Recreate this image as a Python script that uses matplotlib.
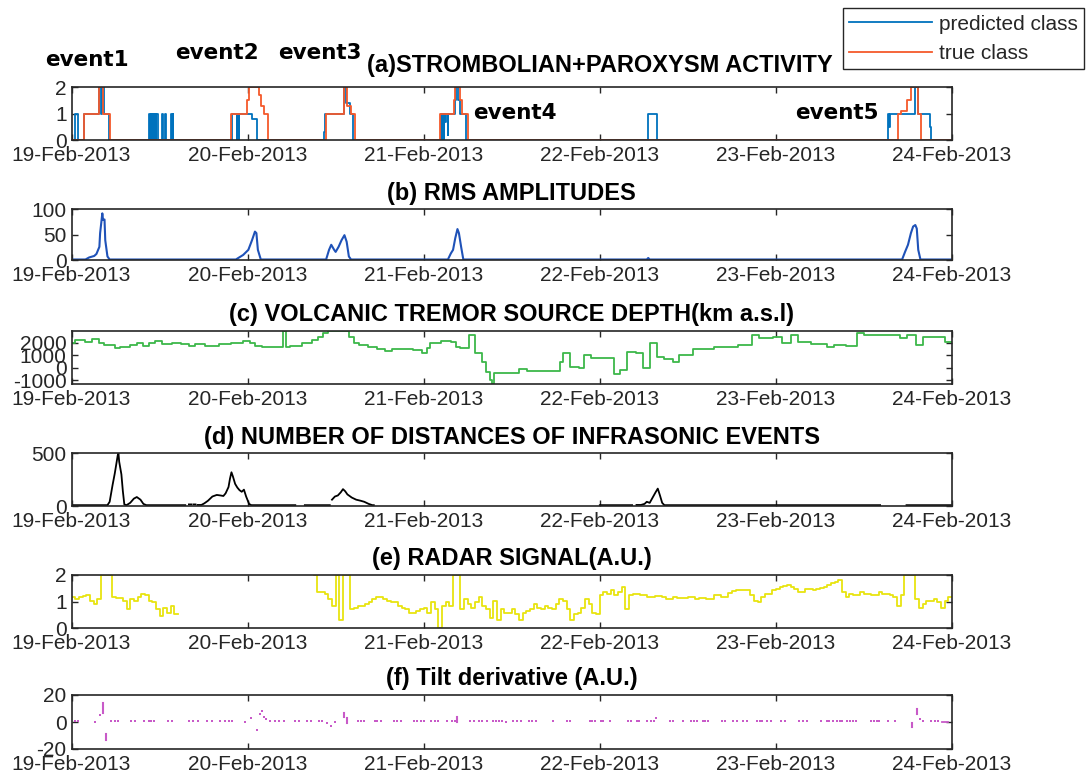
import numpy as np
import matplotlib
matplotlib.use('Agg')
import matplotlib.pyplot as plt
import matplotlib.dates as mdates

plt.rcParams['font.family'] = ['Liberation Sans', 'DejaVu Sans']
plt.rcParams['axes.unicode_minus'] = False

# ---- data (hours since 19-Feb-2013 00:00) ----
# (a) classes, step change points
pred_t = [0, 0.45, 0.95, 1.7, 3.8, 4.0, 4.15, 4.4, 5.15,
          10.6, 10.75, 10.8, 10.9, 10.95, 11.1, 11.15, 11.3, 11.35, 11.5, 11.55, 11.8,
          12.35, 12.45, 12.75, 12.85, 13.55, 13.65, 13.8, 13.9,
          21.9, 22.5, 22.55, 22.8, 22.85, 24.6, 25.3,
          34.35, 34.55, 37.15, 37.35, 37.9, 38.4,
          50.4, 50.5, 50.55, 50.7, 50.75, 50.9, 51.1, 51.3, 51.35, 52.2, 52.4, 52.7, 53.0, 53.7,
          78.6, 79.8,
          111.3, 111.45, 111.55, 114.9, 115.3, 117.0, 117.2, 120]
pred_v = [0, 1, 0, 1, 2, 1, 2, 1, 0,
          1, 0, 1, 0, 1, 0, 1, 0, 1, 0, 1, 0,
          1, 0, 1, 0, 1, 0, 1, 0,
          1, 0, 1, 0, 1, 0.8, 0,
          0.3, 1, 2, 1.4, 1, 0,
          1, 0, 1, 0, 1, 0.7, 1, 0.2, 1, 1.5, 2, 1.5, 1, 0,
          1, 0,
          1, 0.5, 1, 2, 1, 0.5, 0, 0]
true_t = [0, 1.7, 3.7, 4.3, 5.2,
          21.8, 23.9, 24.2, 25.5, 25.8, 26.2, 26.8,
          34.7, 37.15, 37.6, 38.1, 38.6,
          50.2, 52.1, 52.3, 52.9, 53.2, 54.0,
          112.6, 113.1, 113.9, 114.4, 115.4, 115.8, 120]
true_v = [0, 1, 2, 1, 0,
          1, 1.5, 2, 1.7, 1.3, 1, 0,
          1, 2, 1.3, 1, 0,
          1, 1.5, 2, 1.5, 1, 0,
          1, 1.1, 1.5, 2, 1, 0, 0]

# (b) RMS amplitudes
rms_t = [0, 1.9, 2.4, 3.1, 3.4, 3.8, 3.9, 4.2, 4.3, 4.5, 4.6, 4.9, 5.2,
         22.4, 23.4, 24.1, 24.6, 25.0, 25.2, 25.4, 25.8,
         34.7, 35.1, 35.4, 35.8, 36.0, 36.4, 36.8, 37.2, 37.5, 37.8, 38.1,
         51.3, 51.7, 52.0, 52.3, 52.6, 52.8, 53.1, 53.4,
         78.4, 78.6, 78.8,
         113.2, 113.6, 114.0, 114.4, 114.7, 115.0, 115.2, 115.4, 115.7, 120]
rms_v = [1, 1, 5, 8, 12, 26, 53, 92, 79, 80, 39, 7, 1,
         1, 10, 20, 39, 56, 53, 20, 1,
         1, 20, 30, 20, 16, 26, 39, 49, 36, 7, 1,
         1, 13, 20, 43, 61, 53, 26, 1,
         1, 4, 1,
         1, 16, 30, 53, 66, 69, 62, 20, 1, 1]

# (c) tremor source depth, step change points
depth_t = [0.0, 0.47, 1.89, 2.83, 3.78, 4.49, 5.90, 6.61, 8.03, 8.98,
           9.68, 10.63, 11.34, 12.28, 13.70, 14.88, 16.06, 16.77, 18.19, 20.08,
           21.73, 23.38, 24.33, 25.04, 25.98, 28.81, 29.29, 29.76, 31.41, 32.83,
           33.54, 34.25, 34.96, 37.79, 38.50, 39.21, 40.39, 41.57, 42.75, 43.69,
           46.53, 47.71, 48.42, 48.89, 50.31, 51.72, 52.43, 53.0, 54.18, 54.99,
           55.96, 56.43, 57.05, 57.36, 57.63, 60.94, 62.12, 66.53, 67.0, 67.95,
           69.13, 69.84, 70.79, 73.87, 74.81, 75.76, 76.94, 77.89, 78.83, 79.78,
           80.73, 81.91, 82.86, 84.75, 87.59, 90.90, 92.80, 93.74, 95.64, 96.82,
           98.0, 98.95, 100.84, 102.97, 103.92, 105.57, 106.99, 107.94, 112.91, 113.85,
           115.04, 115.99, 119.06, 120]
depth_v = [1933, 2200, 2067, 2253, 1933, 1800, 1533, 1667, 1800, 1933,
           1747, 1987, 2120, 1853, 1987, 1880, 1747, 1853, 1720, 1880,
           1933, 2120, 1933, 1747, 1667, 2950, 1667, 1747, 1933, 2200,
           2467, 2733, 2950, 2467, 1987, 1800, 1667, 1480, 1347, 1453,
           1400, 1133, 1533, 1933, 2147, 2067, 1667, 1533, 2600, 1187,
           467, -333, -1000, -1320, -413, -147, -253, 467, 1133, 67,
           -67, 1000, 733, -520, -200, 1267, 1187, -67, 1933, 867,
           653, 467, 1000, 1453, 1667, 1800, 2600, 2333, 2467, 1933,
           2600, 2067, 1853, 1667, 1800, 1720, 2787, 2600, 2333, 2600,
           1800, 2467, 2067, 2067]

# (d) infrasonic events (nan = no data)
infra_t = [0, 4.9, 5.2, 5.6, 5.9, 6.3, 6.4, 6.5, 6.8, 7.0, 7.2, 7.5, 8.0, 8.5, 8.9,
           9.4, 9.8, 10.2, 15.5, 15.7, 16.0, 16.3, 16.4, 16.6, 16.9, 17.0,
           17.2, 17.7, 18.1, 18.6, 19.2, 19.8, 20.3, 20.7, 21.0, 21.4, 21.6, 21.8,
           22.0, 22.3, 22.6, 22.9, 23.2, 23.5, 23.8, 24.2, 24.5, 30.5, 31.0,
           31.8, 35.2, 35.3, 35.5, 35.9, 36.3, 36.7, 37.0, 37.3, 37.6, 38.2,
           38.8, 39.4, 39.9, 40.5, 41.0, 41.2, 41.5, 72.0, 76.4, 76.7,
           77.0, 77.6, 78.1, 78.4, 78.8, 79.2, 79.6, 79.9, 80.2, 80.5, 80.8,
           110.2, 111.0, 113.8, 120]
infra_v = [8, 8, 40, 200, 310, 480, 500, 420, 300, 140, 15, 8, 30, 70, 85,
           60, 20, 8, 8, np.nan, 15, 15, np.nan, 15, 15, np.nan,
           10, 10, 25, 50, 90, 105, 100, 95, 120, 180, 260, 320,
           280, 210, 175, 150, 135, 155, 90, 20, 8, 8, np.nan,
           8, 8, np.nan, 60, 90, 100, 130, 160, 140, 110, 80,
           60, 50, 40, 20, 8, 8, np.nan, 8, 8, np.nan,
           10, 10, 20, 40, 30, 80, 130, 165, 100, 30, 8,
           8, np.nan, 8, 8]

# (e) radar signal, one sample every 30 min
radar_step_h = 0.5
radar_v = ([1.16, 1.10, 1.16, 1.20, 1.23, 1.03, 0.90, 1.10, 2.0, 2.0,
            2.0, 1.16, 1.12, 1.12, 1.03, 0.71, 1.10, 1.03, 1.16, 1.29,
            1.23, 1.03, 0.97, 0.71, 0.45, 0.77, 0.58, 0.84, 0.52]
           + [np.nan] * 37
           + [2.0, 1.35, 1.35, 1.29, 1.10, 0.84, 2.0, 0.32, 2.0, 2.0,
              0.71, 0.77, 0.84, 0.84, 0.90, 0.97, 1.10, 1.16, 1.16, 1.10,
              1.03, 0.97, 0.97, 0.84, 0.77, 0.71, 0.58, 0.58, 0.65, 0.71,
              0.77, 0.58, 0.97, 0.71, 0.0, 0.84, 0.97, 0.84, 2.0, 2.0,
              0.71, 1.10, 0.90, 0.77, 0.97, 1.16, 0.84, 0.71, 0.39, 1.03,
              0.32, 0.71, 0.58, 0.58, 0.71, 0.52, 0.32, 0.58, 0.65, 0.71,
              0.90, 0.77, 0.71, 0.84, 0.77, 0.71, 0.90, 1.10, 1.03, 0.71,
              0.32, 0.52, 0.58, 0.77, 1.10, 0.90, 0.58, 0.52, 1.23, 1.35,
              1.29, 1.42, 1.23, 1.35, 1.55, 0.71, 1.23, 1.29, 1.29, 1.23,
              1.23, 1.16, 1.16, 1.19, 1.19, 1.16, 1.10, 1.10, 1.16, 1.12,
              1.12, 1.12, 1.16, 1.16, 1.10, 1.14, 1.14, 1.10, 1.10, 1.23,
              1.23, 1.16, 1.16, 1.33, 1.38, 1.42, 1.42, 1.42, 1.42, 1.23,
              1.03, 0.97, 1.16, 1.29, 1.29, 1.42, 1.48, 1.55, 1.59, 1.61,
              1.55, 1.48, 1.35, 1.35, 1.48, 1.48, 1.42, 1.46, 1.51, 1.55,
              1.61, 1.68, 1.74, 1.81, 1.35, 1.16, 1.29, 1.23, 1.23, 1.35,
              1.29, 1.29, 1.23, 1.25, 1.35, 1.29, 1.29, 1.25, 1.16, 0.84,
              1.23, 2.0, 2.0, 2.0, 1.10, 0.77, 0.90, 1.03, 1.03, 1.10,
              0.97, 0.77, 1.03, 1.16, 1.16])

# (f) tilt derivative: isolated samples and short vertical excursions
tilt_t = [0.5, 0.9, 3.17, 3.84, 5.4, 5.9, 6.3, 8.1, 8.6, 9.9, 10.5, 10.9, 11.3,
          13.1, 13.7, 16.0, 16.6, 17.2, 18.5, 19.1, 20.3, 20.9, 21.4, 21.9,
          23.6, 24.4, 25.3, 25.7, 25.9, 26.2, 26.5, 27.0, 27.8, 28.3, 29.0,
          30.5, 31.0, 32.1, 32.6, 33.7, 34.2, 34.8, 35.3, 35.9,
          39.0, 39.5, 39.9, 41.3, 41.7, 42.2, 44.0, 44.4, 44.9,
          46.7, 47.1, 47.6, 48.0, 49.0, 49.5, 49.9, 51.2, 51.9, 52.2,
          54.3, 54.9, 55.5, 56.0, 56.6, 57.4, 57.8, 58.3, 58.7, 59.2,
          60.2, 60.7, 61.2, 62.3, 62.8, 63.3, 65.6, 67.5, 68.0,
          70.6, 71.0, 71.3, 72.1, 72.5, 73.4, 75.8, 76.3, 77.1, 77.4,
          78.4, 79.0, 79.4, 79.7, 81.6, 82.0, 83.4, 84.4, 84.8, 85.2,
          86.1, 86.4, 86.8, 88.7, 89.1, 90.1, 90.7, 91.5, 92.0,
          93.4, 93.8, 94.1, 94.8, 95.3, 96.7, 97.2, 99.2, 99.7, 100.2,
          102.1, 102.9, 103.3, 103.8, 104.3, 104.7, 105.0, 105.7, 106.1,
          106.5, 106.9, 109.0, 109.4, 109.8, 110.1, 111.3, 112.2,
          115.6, 116.0, 117.2, 117.7, 118.1]
tilt_v = [1, 1, 0, 5, 1, 1, 1, 1, 1, 1, 1, 1, 1,
          1, 1, 1, 1, 1, 1, 1, 1, 1, 1, 1,
          0, 3, -6, 6, 8, 4, 2, 1, 1, 1, 1,
          1, 1, 1, 1, 1, 1, -1, -3, 0,
          1, 1, 1, 1, 1, 1, 1, 1, 1,
          1, 1, 1, 1, 1, 1, 1, 1, 1, 1,
          1, 1, 1, 1, 1, 1, 1, 1, 1, 0,
          1, 1, 1, 1, 1, 1, 1, 1, 1,
          1, 1, 1, 1, 1, 1, 1, 1, 1, 1,
          1, 1, 1, 3, 1, 1, 1, 1, 1, 1,
          1, 1, 1, 1, 1, 1, 1, 1, 1,
          1, 1, 1, 1, 1, 1, 1, 1, 1, 1,
          1, 1, 1, 1, 1, 1, 1, 1, 1,
          1, 1, 1, 1, 1, 1, 1, 1,
          2, 1, 1, 1, 1]
spike_t = [4.3, 4.75, 37.1, 37.6, 52.6, 114.6, 115.2]
spike_lo = [7, -13, 4, -1, 0, -4, 6]
spike_hi = [14, -9, 7, 3, 4, -1, 10]
tail_t = [118.6, 119.4]
tail_v = [0, 0]

events = ['event1', 'event2', 'event3', 'event4', 'event5']
event_px = [(45, 60), (175, 53), (278, 53), (473, 113), (795, 113)]

titles = ['(a)STROMBOLIAN+PAROXYSM ACTIVITY', '(b) RMS AMPLITUDES',
          '(c) VOLCANIC TREMOR SOURCE DEPTH(km a.s.l)',
          '(d) NUMBER OF DISTANCES OF INFRASONIC EVENTS',
          '(e) RADAR SIGNAL(A.U.)', '(f) Tilt derivative (A.U.)']


def to_dt(hours):
    h = np.asarray(hours, dtype=float)
    return np.datetime64('2013-02-19T00:00:00') + np.round(h * 3600).astype('timedelta64[s]')


W, H = 1089, 778
fig = plt.figure(figsize=(W / 100, H / 100), dpi=100)

# panel boxes in pixels: (top, bottom)
boxes = [(87.3, 140), (209.3, 260), (330.7, 384), (453.3, 506), (575, 628), (695, 749)]
left, right = 71.5, 952
axes = []
for top, bot in boxes:
    ax = fig.add_axes([left / W, 1 - bot / H, (right - left) / W, (bot - top) / H])
    axes.append(ax)

dark = '#262626'
for i, ax in enumerate(axes):
    ax.set_xlim(to_dt([0, 120]))
    ax.xaxis.set_major_locator(mdates.DayLocator())
    ax.xaxis.set_major_formatter(mdates.DateFormatter('%d-%b-%Y'))
    ax.tick_params(direction='in', top=True, right=True, length=4.5, width=1,
                   labelsize=15, color=dark, labelcolor=dark)
    ax.tick_params(axis='x', pad=4.5)
    ax.tick_params(axis='y', pad=3.5)
    for s in ax.spines.values():
        s.set_linewidth(1.2)
        s.set_color(dark)
    if i > 0:
        ax.set_title(titles[i], fontsize=17, fontweight='bold', pad=7)

# (a)
ax = axes[0]
h_pred, = ax.plot(to_dt(pred_t), pred_v, drawstyle='steps-post', color='#0072BD', lw=1.3)
h_true, = ax.plot(to_dt(true_t), true_v, drawstyle='steps-post', color='#F5592B', lw=1.3)
ax.set_ylim(0, 2)
ax.set_yticks([0, 1, 2])
ax.set_title(titles[0], fontsize=17, fontweight='bold', x=0.6, pad=11)

# (b)
ax = axes[1]
ax.plot(to_dt(rms_t), rms_v, color='#1F52B8', lw=1.5)
ax.set_ylim(0, 100)
ax.set_yticks([0, 50, 100])

# (c)
ax = axes[2]
ax.plot(to_dt(depth_t), depth_v, drawstyle='steps-post', color='#3DB84A', lw=1.3)
ax.set_ylim(-1320, 2950)
ax.set_yticks([-1000, 0, 1000, 2000])

# (d)
ax = axes[3]
ax.plot(to_dt(infra_t), infra_v, color='black', lw=1.3)
ax.set_ylim(0, 500)
ax.set_yticks([0, 500])

# (e)
ax = axes[4]
radar_t = np.arange(len(radar_v)) * radar_step_h
ax.plot(to_dt(radar_t), radar_v, drawstyle='steps-post', color='#E8E410', lw=1.3)
ax.set_ylim(0, 2)
ax.set_yticks([0, 1, 2])

# (f)
ax = axes[5]
mag = '#C85AC8'
ax.plot(to_dt(tilt_t), tilt_v, ls='none', marker='s', ms=1.8, mew=0, color=mag)
for t, lo, hi in zip(spike_t, spike_lo, spike_hi):
    ax.plot(to_dt([t, t]), [lo, hi], color=mag, lw=1.5)
ax.plot(to_dt(tail_t), tail_v, color=mag, lw=1.3)
ax.set_ylim(-20, 20)
ax.set_yticks([-20, 0, 20])

for name, (x, y) in zip(events, event_px):
    fig.text(x / W, 1 - y / H, name, fontsize=15.5, fontweight='bold',
             family=['DejaVu Sans'], ha='left', va='center')

leg = fig.legend([h_pred, h_true], ['predicted class', 'true class'],
                 loc='upper left', bbox_to_anchor=(843 / W, 1 - 8.3 / H),
                 borderaxespad=0, fancybox=False, edgecolor=dark, framealpha=1,
                 fontsize=15, handlelength=3.95, handletextpad=0.35,
                 borderpad=0.3, labelspacing=0.5)
leg.get_frame().set_linewidth(1.0)
for txt in leg.get_texts():
    txt.set_color(dark)

fig.savefig('out.png', dpi=100)
